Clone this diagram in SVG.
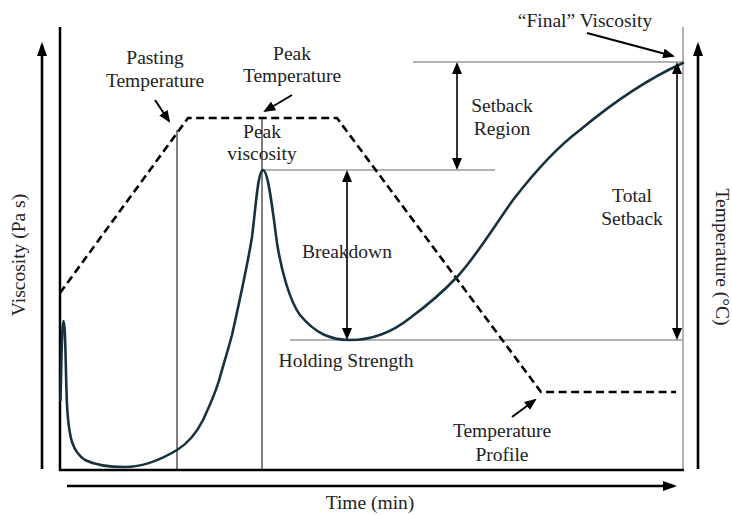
<svg xmlns="http://www.w3.org/2000/svg" width="732" height="515" viewBox="0 0 732 515">
<style>
  text { font-family: "Liberation Serif", "Times New Roman", serif; font-size: 19.5px; fill: #222; }
  .c { text-anchor: middle; }
  .axis { stroke: #000; stroke-width: 2.5; fill: none; }
  .grid { stroke: #9a9a9a; stroke-width: 1.5; fill: none; }
  .thin { stroke: #000; stroke-width: 1; fill: none; }
  .dash { stroke: #000; stroke-width: 2.6; fill: none; stroke-dasharray: 8 4.5; }
  .curve { stroke: #17323f; stroke-width: 2.6; fill: none; stroke-linecap: round; }
  .dbl { stroke: #000; stroke-width: 1.6; fill: none; marker-start: url(#ah); marker-end: url(#ah); }
  .ann { stroke: #000; stroke-width: 2; fill: none; marker-end: url(#ah); }
  .big { stroke: #000; stroke-width: 2.6; fill: none; marker-end: url(#bh); }
</style>
<defs>
  <marker id="ah" viewBox="0 0 12 10" refX="10" refY="5" markerWidth="12" markerHeight="10" markerUnits="userSpaceOnUse" orient="auto-start-reverse">
    <path d="M0,0 L12,5 L0,10 z" fill="#000"/>
  </marker>
  <marker id="bh" viewBox="0 0 14 10" refX="11" refY="5" markerWidth="14" markerHeight="10" markerUnits="userSpaceOnUse" orient="auto">
    <path d="M0,0 L14,5 L0,10 z" fill="#000"/>
  </marker>
</defs>

<g id="axes">
  <line class="big" x1="42" y1="469" x2="42" y2="45"/>
  <line class="big" x1="698" y1="469" x2="698" y2="45"/>
  <line class="big" x1="67" y1="486" x2="674" y2="486"/>
  <line class="grid" x1="683" y1="27" x2="683" y2="470"/>
  <line class="axis" x1="60" y1="27" x2="60" y2="471"/>
  <line class="axis" x1="59" y1="470" x2="684" y2="470"/>
  <text class="c" x="370" y="509">Time (min)</text>
  <text class="c" transform="translate(25,255) rotate(-90)">Viscosity (Pa s)</text>
  <text class="c" transform="translate(716,257) rotate(90)">Temperature (°C)</text>
</g>

<g id="reference-lines">
  <line class="grid" x1="413" y1="62" x2="683" y2="62"/>
  <line class="grid" x1="262" y1="170" x2="495" y2="170"/>
  <line class="grid" x1="290" y1="340" x2="683" y2="340"/>
  <line class="thin" x1="177" y1="130" x2="177" y2="470"/>
  <line class="thin" x1="262" y1="118" x2="262" y2="470"/>
</g>

<g id="temperature-profile">
  <path class="dash" d="M60,293 L188,118 L337,118 L541,392 L676,392"/>
</g>

<g id="viscosity-curve">
  <path class="curve" d="M60.5,400 C61.5,360 62,321 63.5,321 C65.5,321 65.5,370 67,405 C69,440 73,452 85,460 C97,466 110,467 125,467 C145,467 162,459 177,450 C190,442 198,430 203,420 C210,405 216,392 220,377 C224,363 228,350 232,335 C238,308 247,268 252,237 C256,205 258,170 263,170 C268,170 272,205 277,243 C281,268 289,300 300,315 C315,333 330,340 350,340 C375,340 395,330 410,318 C425,307 440,295 457,277 C475,258 495,225 513,200 C540,165 560,145 580,130 C610,105 645,80 683,63"/>
</g>

<g id="connectors">
  <line class="dbl" x1="457" y1="64" x2="457" y2="168"/>
  <line class="dbl" x1="347" y1="172" x2="347" y2="338"/>
  <line class="dbl" x1="677" y1="64" x2="677" y2="338"/>
  <line class="ann" x1="155" y1="100" x2="169" y2="121"/>
  <line class="ann" x1="292" y1="95" x2="265" y2="111"/>
  <line class="ann" x1="587" y1="33" x2="673" y2="56"/>
  <line class="ann" x1="512" y1="417" x2="535" y2="400"/>
</g>

<g id="label-pasting">
  <text class="c" x="155" y="64">Pasting</text>
  <text class="c" x="155" y="87">Temperature</text>
</g>
<g id="label-peak-temp">
  <text class="c" x="292" y="60">Peak</text>
  <text class="c" x="292" y="82">Temperature</text>
</g>
<g id="label-peak-visc">
  <text class="c" x="262" y="138">Peak</text>
  <text class="c" x="262" y="160">viscosity</text>
</g>
<g id="label-setback-region">
  <text class="c" x="502" y="112">Setback</text>
  <text class="c" x="502" y="135">Region</text>
</g>
<g id="label-final">
  <text class="c" x="585" y="27">“Final” Viscosity</text>
</g>
<g id="label-breakdown">
  <text class="c" x="347" y="258">Breakdown</text>
</g>
<g id="label-total-setback">
  <text class="c" x="632" y="202">Total</text>
  <text class="c" x="632" y="225">Setback</text>
</g>
<g id="label-holding">
  <text class="c" x="346" y="367">Holding Strength</text>
</g>
<g id="label-temp-profile">
  <text class="c" x="502" y="437">Temperature</text>
  <text class="c" x="502" y="461">Profile</text>
</g>
</svg>
